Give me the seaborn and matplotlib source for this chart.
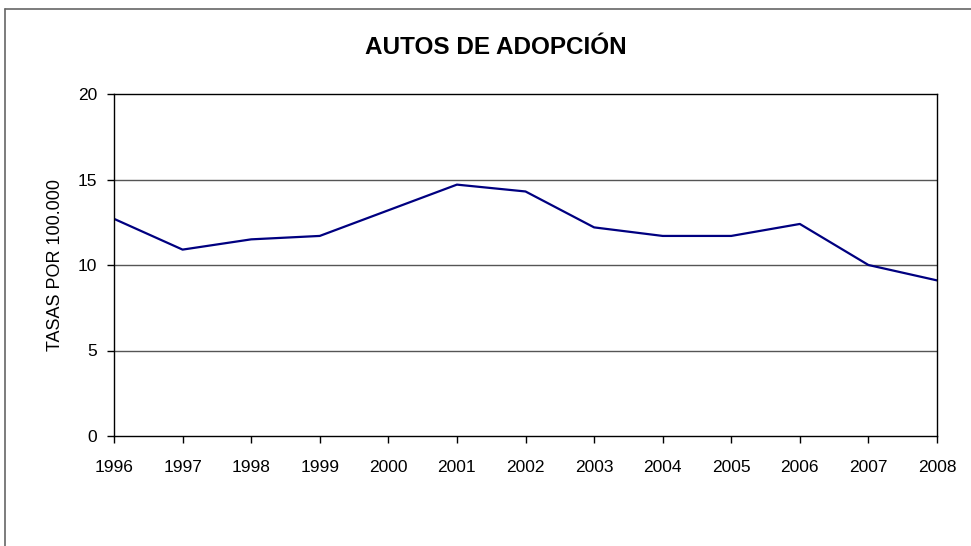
import numpy as np
import pandas as pd
import seaborn as sns
import matplotlib.pyplot as plt
from matplotlib.lines import Line2D

sns.set_style("white")
plt.rcParams['font.family'] = ['Liberation Sans', 'DejaVu Sans']
plt.rcParams['text.color'] = 'black'
plt.rcParams['axes.labelcolor'] = 'black'
plt.rcParams['xtick.color'] = 'black'
plt.rcParams['ytick.color'] = 'black'

years = [1996, 1997, 1998, 1999, 2000, 2001, 2002, 2003, 2004, 2005, 2006, 2007, 2008]
tasas = [12.7, 10.9, 11.5, 11.7, 13.2, 14.7, 14.3, 12.2, 11.7, 11.7, 12.4, 10.0, 9.1]

df = pd.DataFrame({"anio": years, "tasa": tasas})

fig = plt.figure(figsize=(9.71, 5.46), dpi=100)
ax = fig.add_axes([114 / 971, 1 - 436 / 546, (937 - 114) / 971, (436 - 94) / 546])

sns.lineplot(data=df, x="anio", y="tasa", color="#000080", linewidth=1.6, ax=ax)

ax.set_xlim(1996, 2008)
ax.set_ylim(0, 20)
ax.set_xticks(years)
ax.set_xticklabels([str(y) for y in years], fontsize=12.5)
ax.set_yticks([0, 5, 10, 15, 20])
ax.set_yticklabels(["0", "5", "10", "15", "20"], fontsize=12.5)
ax.tick_params(axis="x", direction="out", length=5, width=1, pad=12, bottom=True)
ax.tick_params(axis="y", direction="out", length=5, width=1, pad=7, left=True)
ax.set_xlabel("")
ax.set_ylabel("TASAS POR 100.000", fontsize=13, labelpad=10)

for v in [5, 10, 15]:
    ax.axhline(v, color="#555555", linewidth=1, zorder=0)

for s in ax.spines.values():
    s.set_visible(True)
    s.set_color("black")
    s.set_linewidth(1)

fig.text(496 / 971, 1 - 47 / 546, "AUTOS DE ADOPCIÓN", ha="center", va="center",
         fontsize=17.5, fontweight="bold")

# outer chart frame (top and left edges visible)
fig.add_artist(Line2D([5 / 971, 1.0], [1 - 9 / 546, 1 - 9 / 546], color="#666666", linewidth=1.2))
fig.add_artist(Line2D([5 / 971, 5 / 971], [0, 1 - 9 / 546], color="#666666", linewidth=1.2))

fig.savefig("out.png", dpi=100)
